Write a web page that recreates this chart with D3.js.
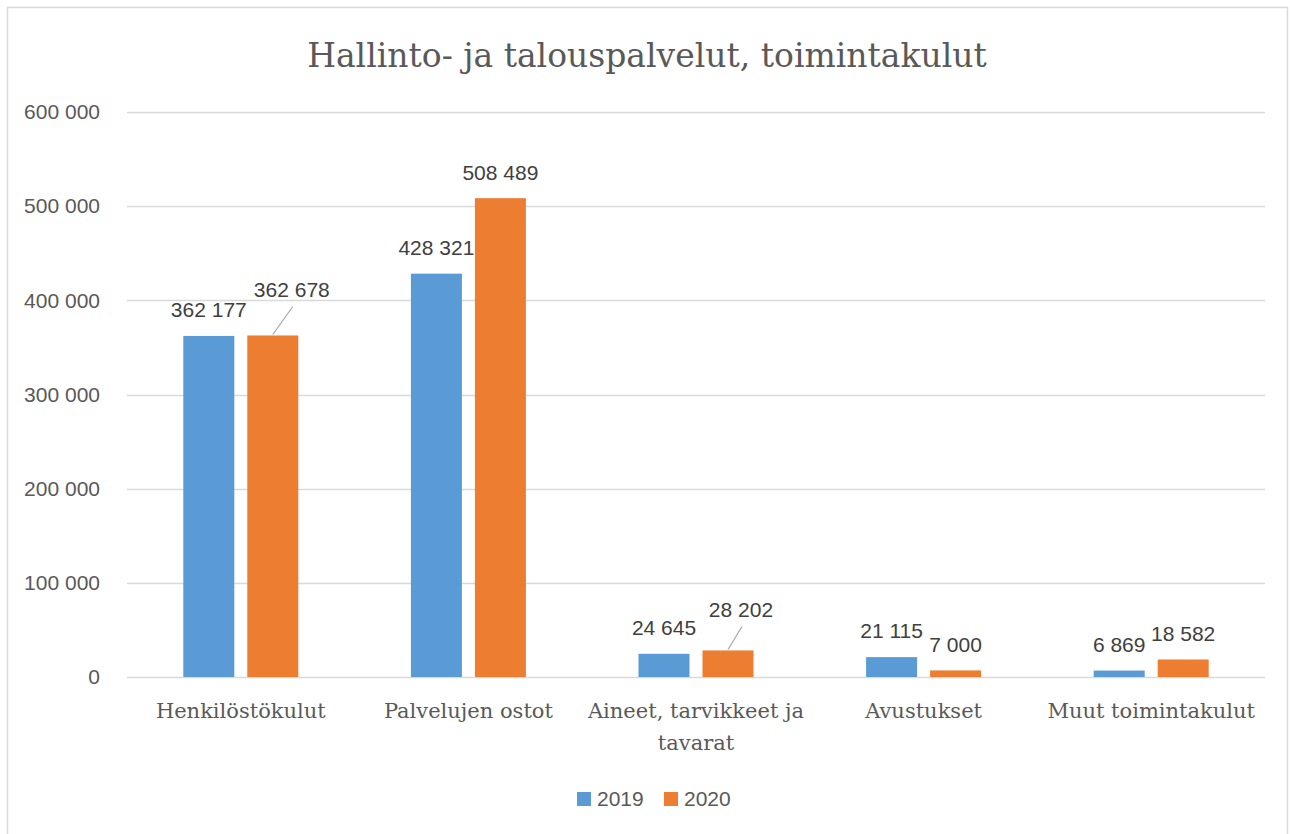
<!DOCTYPE html>
<html>
<head>
<meta charset="utf-8">
<script src="https://cdn.jsdelivr.net/npm/d3@7"></script>
<style>
  body { margin: 0; background: #fff; }
  svg { display: block; }
</style>
</head>
<body>
<div id="container"></div>
<script>
const width = 1290;
const height = 834;

const categories = ['Henkilöstökulut', 'Palvelujen ostot', 'Aineet, tarvikkeet ja tavarat', 'Avustukset', 'Muut toimintakulut'];
const series = ['2019', '2020'];
const values2019 = [362177, 428321, 24645, 21115, 6869];
const values2020 = [362678, 508489, 28202, 7000, 18582];
const yTicks = [0, 100000, 200000, 300000, 400000, 500000, 600000];

const colors = { '2019': '#5B9BD5', '2020': '#ED7D31' };

// labels pulled off their bar with a leader line (series 2020)
const leaderOffsets = { 0: { dx: 19, dy: -20 }, 2: { dx: 13, dy: -15 } };

const margin = { top: 112, right: 25, bottom: 157, left: 127 };

const fmt = v => d3.format(',')(v).replace(/,/g, ' ');

let svg = d3.select('#container').append('svg')
    .attr('width', width)
    .attr('height', height);

svg.append('rect')
    .attr('x', 7.5).attr('y', 7.5)
    .attr('width', 1280).attr('height', 835)
    .attr('fill', '#fff')
    .attr('stroke', '#D9D9D9')
    .attr('stroke-width', 1.5);

svg.append('text')
    .attr('x', 647).attr('y', 55)
    .attr('dy', '0.35em')
    .attr('text-anchor', 'middle')
    .attr('font-family', 'DejaVu Serif, serif')
    .attr('font-size', 33)
    .attr('fill', '#595959')
    .text('Hallinto- ja talouspalvelut, toimintakulut');

let x0 = d3.scaleBand()
    .domain(categories)
    .range([margin.left, width - margin.right])
    .paddingInner(0.4947)
    .paddingOuter(0.4947 / 2);

let x1 = d3.scaleBand()
    .domain(series)
    .range([0, x0.bandwidth()])
    .paddingInner(0.203);

let y = d3.scaleLinear()
    .domain([0, 600000])
    .range([height - margin.bottom, margin.top]);

// gridlines
svg.append('g')
    .selectAll('line')
    .data(yTicks)
    .join('line')
    .attr('x1', margin.left)
    .attr('x2', width - margin.right)
    .attr('y1', d => Math.round(y(d)) + 0.5)
    .attr('y2', d => Math.round(y(d)) + 0.5)
    .attr('stroke', '#D9D9D9')
    .attr('stroke-width', 1.5);

// y axis labels
let yAxis = svg.append('g')
    .attr('transform', `translate(${margin.left - 27},0)`)
    .call(d3.axisLeft(y).tickValues(yTicks).tickFormat(fmt).tickSize(0).tickPadding(0));
yAxis.select('.domain').remove();
yAxis.selectAll('text')
    .attr('font-family', 'Liberation Sans, sans-serif')
    .attr('font-size', 21)
    .attr('fill', '#595959');

// x axis labels
let xAxis = svg.append('g')
    .attr('transform', `translate(0,${height - margin.bottom})`)
    .call(d3.axisBottom(x0).tickSize(0).tickPadding(26));
xAxis.select('.domain').remove();
xAxis.selectAll('text')
    .attr('font-family', 'DejaVu Serif, serif')
    .attr('font-size', 21)
    .attr('fill', '#595959')
    .each(function(d) {
        if (d.length > 22) {
            let t = d3.select(this);
            let words = d.split(' ');
            t.text(null);
            t.append('tspan').attr('x', 0).attr('dy', '0.71em').text(words.slice(0, 3).join(' '));
            t.append('tspan').attr('x', 0).attr('dy', '1.55em').text(words.slice(3).join(' '));
        }
    });

let rows = categories.map((c, i) => ({ cat: c, i: i, vals: [
    { key: '2019', value: values2019[i], i: i },
    { key: '2020', value: values2020[i], i: i }
] }));

let groups = svg.append('g')
    .selectAll('g')
    .data(rows)
    .join('g')
    .attr('transform', d => `translate(${x0(d.cat)},0)`);

groups.selectAll('rect')
    .data(d => d.vals)
    .join('rect')
    .attr('x', d => x1(d.key))
    .attr('y', d => y(d.value))
    .attr('width', x1.bandwidth())
    .attr('height', d => y(0) - y(d.value))
    .attr('fill', d => colors[d.key]);

// data labels
groups.selectAll('g.lbl')
    .data(d => d.vals)
    .join('g')
    .attr('class', 'lbl')
    .each(function(d) {
        let g = d3.select(this);
        let cx = x1(d.key) + x1.bandwidth() / 2;
        let top = y(d.value);
        let off = (d.key === '2020' && leaderOffsets[d.i]) ? leaderOffsets[d.i] : { dx: 0, dy: 0 };
        let lx = cx + off.dx;
        let ly = top - 26 + off.dy;
        if (off.dx !== 0) {
            g.append('line')
                .attr('x1', cx).attr('y1', top - 1)
                .attr('x2', lx + 1).attr('y2', ly + 17)
                .attr('stroke', '#A6A6A6')
                .attr('stroke-width', 1.2);
        }
        g.append('text')
            .attr('x', lx).attr('y', ly)
            .attr('dy', '0.35em')
            .attr('text-anchor', 'middle')
            .attr('font-family', 'Liberation Sans, sans-serif')
            .attr('font-size', 21)
            .attr('fill', '#404040')
            .text(fmt(d.value));
    });

// legend
let legend = svg.append('g')
    .selectAll('g')
    .data(series)
    .join('g')
    .attr('transform', (d, i) => `translate(${577 + i * 87},799)`);

legend.append('rect')
    .attr('x', 0).attr('y', -7)
    .attr('width', 14).attr('height', 14)
    .attr('fill', d => colors[d]);

legend.append('text')
    .attr('x', 20).attr('y', 0)
    .attr('dy', '0.35em')
    .attr('font-family', 'Liberation Sans, sans-serif')
    .attr('font-size', 21)
    .attr('fill', '#595959')
    .text(d => d);
</script>
</body>
</html>
